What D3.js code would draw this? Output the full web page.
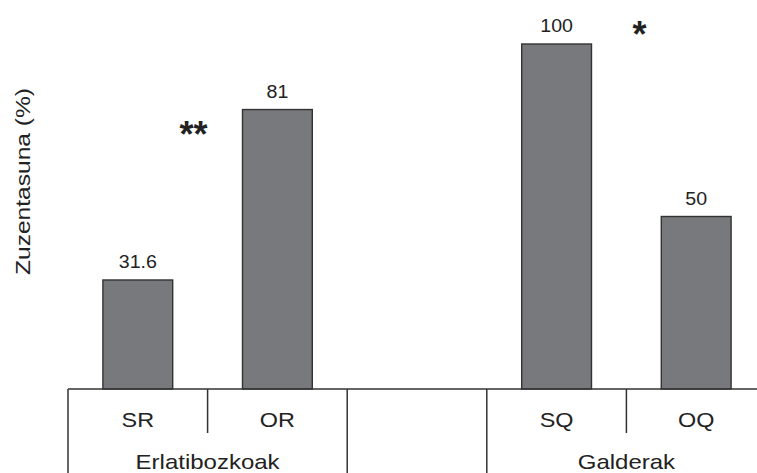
<!DOCTYPE html>
<html>
<head>
<meta charset="utf-8">
<script src="https://cdnjs.cloudflare.com/ajax/libs/d3/7.8.5/d3.min.js"></script>
<style>
  body { margin: 0; background: #fff; }
  text { font-family: "Liberation Sans", Arial, sans-serif; fill: #222; }
</style>
</head>
<body>
<div id="chart"></div>
<script>
var categories = ["SR", "OR", "", "SQ", "OQ"];
var values = [31.6, 81, null, 100, 50];
var valueLabels = ["31.6", "81", "", "100", "50"];
var groups = ["Erlatibozkoak", "Galderak"];
var groupSlots = [["SR", "OR"], ["SQ", "OQ"]];
var starTexts = ["**", "*"];
var starAfter = ["SR", "SQ"];
var starLevels = [76, 105];

var svgWidth = 757;
var svgHeight = 473;

var baseY = 389;
var topY = 44;
var left = 68;
var step = 139.6;
var stretch = 1.2;

var svg = d3.select("#chart")
    .append("svg")
    .attr("width", svgWidth)
    .attr("height", svgHeight);

var x = d3.scaleBand()
    .domain(categories)
    .range([left, left + step * categories.length])
    .paddingInner(0.5)
    .paddingOuter(0.25);

var y = d3.scaleLinear()
    .domain([0, 100])
    .range([baseY, topY]);

var data = categories.map(function (c, i) {
    return { cat: c, value: values[i], label: valueLabels[i] };
}).filter(function (d) { return d.value != null; });

// bars
svg.selectAll(".bar")
    .data(data)
    .enter()
    .append("rect")
    .attr("class", "bar")
    .attr("x", d => x(d.cat))
    .attr("y", d => y(d.value))
    .attr("width", x.bandwidth())
    .attr("height", d => y(0) - y(d.value))
    .attr("fill", "#78797c")
    .attr("stroke", "#333")
    .attr("stroke-width", 1.4);

// value labels
svg.selectAll(".vlabel")
    .data(data)
    .enter()
    .append("text")
    .attr("transform", d => `translate(${x(d.cat) + x.bandwidth() / 2}, ${y(d.value) - 12}) scale(1.12,1)`)
    .attr("text-anchor", "middle")
    .attr("font-size", "17.5px")
    .text(d => d.label);

// significance stars, in the gap after the first bar of a group
var starDx = [-14, 13];
starTexts.forEach(function (s, i) {
    var gap = x(starAfter[i]) + x.bandwidth() + (x.step() - x.bandwidth()) / 2;
    svg.append("text")
        .attr("x", gap + starDx[i])
        .attr("y", y(starLevels[i]) + 20)
        .attr("text-anchor", "middle")
        .attr("font-size", "36px")
        .attr("font-weight", "bold")
        .text(s);
});

// baseline and category table
var lineColor = "#333";
svg.append("line")
    .attr("x1", left).attr("x2", svgWidth)
    .attr("y1", baseY).attr("y2", baseY)
    .attr("stroke", lineColor).attr("stroke-width", 1.5);

var edges = d3.range(categories.length + 1).map(i => left + i * x.step());
var shortEdges = [edges[1], edges[4]];
var longEdges = [edges[0], edges[2], edges[3]];

svg.selectAll(".short")
    .data(shortEdges)
    .enter()
    .append("line")
    .attr("x1", d => d).attr("x2", d => d)
    .attr("y1", baseY).attr("y2", 433)
    .attr("stroke", lineColor).attr("stroke-width", 1.5);

svg.selectAll(".long")
    .data(longEdges)
    .enter()
    .append("line")
    .attr("x1", d => d).attr("x2", d => d)
    .attr("y1", baseY).attr("y2", svgHeight)
    .attr("stroke", lineColor).attr("stroke-width", 1.5);

svg.selectAll(".cat")
    .data(categories.filter(c => c !== ""))
    .enter()
    .append("text")
    .attr("transform", d => `translate(${x(d) + x.bandwidth() / 2}, 427) scale(${stretch},1)`)
    .attr("text-anchor", "middle")
    .attr("font-size", "19.5px")
    .text(d => d);

svg.selectAll(".group")
    .data(groups)
    .enter()
    .append("text")
    .attr("transform", function (d, i) {
        var a = groupSlots[i][0], b = groupSlots[i][1];
        var cx = (x(a) + x(b) + x.bandwidth()) / 2;
        return `translate(${cx}, 469) scale(${stretch},1)`;
    })
    .attr("text-anchor", "middle")
    .attr("font-size", "20px")
    .text(d => d);

// y title
svg.append("text")
    .attr("transform", "translate(30, 181.5) rotate(-90) scale(1.17,1)")
    .attr("text-anchor", "middle")
    .attr("font-size", "21px")
    .text("Zuzentasuna (%)");
</script>
</body>
</html>
